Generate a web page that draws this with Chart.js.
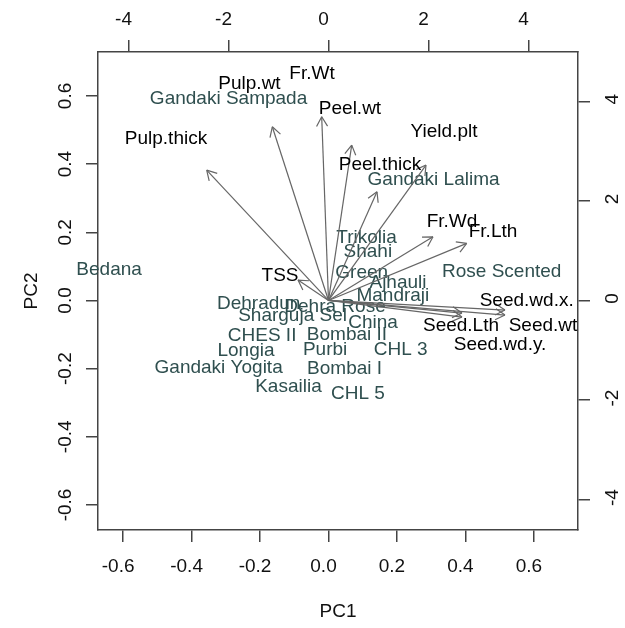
<!DOCTYPE html>
<html><head><meta charset="utf-8">
<script src="https://cdn.jsdelivr.net/npm/chart.js@4.4.1/dist/chart.umd.min.js"></script>
<style>html,body{margin:0;padding:0;background:#fff;overflow:hidden}canvas{display:block}</style>
</head><body>
<canvas id="c" width="625" height="628"></canvas>
<script>
// ---- Data (PC1/PC2 scores of genotypes: bottom/left axes) ----
const genotypes = ["Gandaki Sampada","Bedana","Gandaki Lalima","Trikolia","Shahi","Green","Rose Scented","Ajhauli","Mandraji","Dehra Rose","Dehradun","Sharguja Sel","China","CHES II","Bombai II","Longia","Purbi","CHL 3","Gandaki Yogita","Bombai I","Kasailia","CHL 5"];
const genoPC1 = [-0.292,-0.641,0.307,0.111,0.115,0.097,0.506,0.203,0.188,0.019,-0.204,-0.105,0.130,-0.194,0.054,-0.241,-0.010,0.211,-0.321,0.047,-0.117,0.086];
const genoPC2 = [0.593,0.089,0.353,0.183,0.143,0.081,0.084,0.052,0.013,-0.018,-0.011,-0.046,-0.065,-0.104,-0.101,-0.148,-0.145,-0.145,-0.198,-0.199,-0.253,-0.273];

// ---- Variable loadings (top/right axes) ----
const variables = ["Pulp.thick","Pulp.wt","Fr.Wt","Peel.wt","Peel.thick","Yield.plt","Fr.Wd","Fr.Lth","TSS","Seed.wd.x.","Seed.wt","Seed.Lth","Seed.wd.y."];
const arrowPC1 = [-2.436,-1.124,-0.136,0.464,0.970,1.950,2.090,2.764,-0.610,3.530,3.530,2.670,2.670];
const arrowPC2 = [2.618,3.488,3.689,3.120,2.183,2.719,1.279,1.147,0.410,-0.193,-0.293,-0.253,-0.333];
const varLabelPC1 = [-3.25,-1.58,-0.33,0.43,1.03,2.31,2.47,3.29,-0.97,3.964,4.29,2.65,3.43];
const varLabelPC2 = [3.255,4.353,4.546,3.857,2.719,3.388,1.580,1.380,0.490,-0.012,-0.508,-0.508,-0.896];

// ---- Axes ----
const pcTicks = [-0.6,-0.4,-0.2,0,0.2,0.4,0.6];
const loadTicks = [-4,-2,0,2,4];
const pcRange = [-0.6734, 0.7289];
const loadRange = [-4.61, 4.99];

const FONT = '"Liberation Sans", Arial, Helvetica, sans-serif';
const AXIS_COL = '#444';
const TXT_COL = '#111';
const GENO_COL = '#2F4F4F';
const ARROW_COL = '#666666';
const HEAD = 11;
const FS = 19;

const datasets = [];
datasets.push({
  label: 'genotypes', kind: 'geno',
  data: genoPC1.map((x, i) => ({x, y: genoPC2[i]})),
  xAxisID: 'x', yAxisID: 'y', pointRadius: 0, showLine: false
});
variables.forEach((v, i) => {
  datasets.push({
    label: v, kind: 'arrow',
    data: [{x: 0, y: 0}, {x: arrowPC1[i], y: arrowPC2[i]}],
    xAxisID: 'x2', yAxisID: 'y2', showLine: true, pointRadius: 0,
    borderColor: ARROW_COL, borderWidth: 1.2, fill: false
  });
});
datasets.push({
  label: 'variables', kind: 'vlab',
  data: varLabelPC1.map((x, i) => ({x, y: varLabelPC2[i]})),
  xAxisID: 'x2', yAxisID: 'y2', pointRadius: 0, showLine: false
});

function drawText(chart, kind, names, color) {
  const idx = chart.data.datasets.findIndex(d => d.kind === kind);
  const meta = chart.getDatasetMeta(idx);
  const ctx = chart.ctx;
  ctx.save();
  ctx.font = FS + 'px ' + FONT;
  ctx.fillStyle = color;
  ctx.textAlign = 'center';
  ctx.textBaseline = 'middle';
  meta.data.forEach((el, j) => ctx.fillText(names[j], el.x, el.y));
  ctx.restore();
}

const biplotPlugin = {
  id: 'biplot',
  beforeDatasetsDraw(chart) { drawText(chart, 'geno', genotypes, GENO_COL); },
  afterDatasetsDraw(chart) {
    const ctx = chart.ctx;
    chart.data.datasets.forEach((ds, i) => {
      if (ds.kind !== 'arrow') return;
      const pts = chart.getDatasetMeta(i).data;
      const a = pts[0], b = pts[1];
      const ang = Math.atan2(b.y - a.y, b.x - a.x);
      ctx.save();
      ctx.strokeStyle = ds.borderColor; ctx.lineWidth = ds.borderWidth;
      ctx.beginPath();
      [-1, 1].forEach(s => {
        const t = ang + Math.PI + s * Math.PI / 6;
        ctx.moveTo(b.x, b.y);
        ctx.lineTo(b.x + HEAD * Math.cos(t), b.y + HEAD * Math.sin(t));
      });
      ctx.stroke();
      ctx.restore();
    });
    drawText(chart, 'vlab', variables, '#000');
  }
};

function axis(pos, range, ticks, fmt, size, extra) {
  const vertical = pos === 'left' || pos === 'right';
  return Object.assign({
    type: 'linear', position: pos, min: range[0], max: range[1],
    afterBuildTicks: s => { s.ticks = ticks.map(v => ({value: v})); },
    afterFit: s => { if (vertical) s.width = size; else s.height = size; },
    grid: {drawOnChartArea: false, drawTicks: true, tickLength: 12, color: AXIS_COL, lineWidth: 1.5},
    border: {display: true, color: AXIS_COL, width: 1.5}
  }, extra, {
    ticks: Object.assign({
      callback: fmt, autoSkip: false, color: TXT_COL,
      font: {family: FONT, size: FS}
    }, extra.ticks || {})
  });
}

new Chart(document.getElementById('c'), {
  type: 'scatter',
  data: {datasets},
  options: {
    responsive: false, animation: false, devicePixelRatio: 1,
    layout: {padding: 0},
    plugins: {legend: {display: false}, tooltip: {enabled: false}},
    scales: {
      x: axis('bottom', pcRange, pcTicks, v => Number(v).toFixed(1), 98, {
        ticks: {padding: 13, labelOffset: -5, maxRotation: 0, minRotation: 0},
        title: {display: true, text: 'PC1', color: TXT_COL, font: {family: FONT, size: FS}, padding: {top: 0, bottom: 5}}
      }),
      x2: axis('top', loadRange, loadTicks, v => String(v), 52, {
        ticks: {padding: 9, labelOffset: -5, maxRotation: 0, minRotation: 0}
      }),
      y: axis('left', pcRange, pcTicks, v => Number(v).toFixed(1), 98, {
        ticks: {padding: 4, minRotation: 90, maxRotation: 90, crossAlign: 'center'},
        title: {display: true, text: 'PC2', color: TXT_COL, font: {family: FONT, size: FS}, padding: {top: 20, bottom: 0}}
      }),
      y2: axis('right', loadRange, loadTicks, v => String(v), 47, {
        ticks: {padding: 14, minRotation: 90, maxRotation: 90, crossAlign: 'center', labelOffset: -2}
      })
    }
  },
  plugins: [biplotPlugin]
});
</script>
</body></html>
